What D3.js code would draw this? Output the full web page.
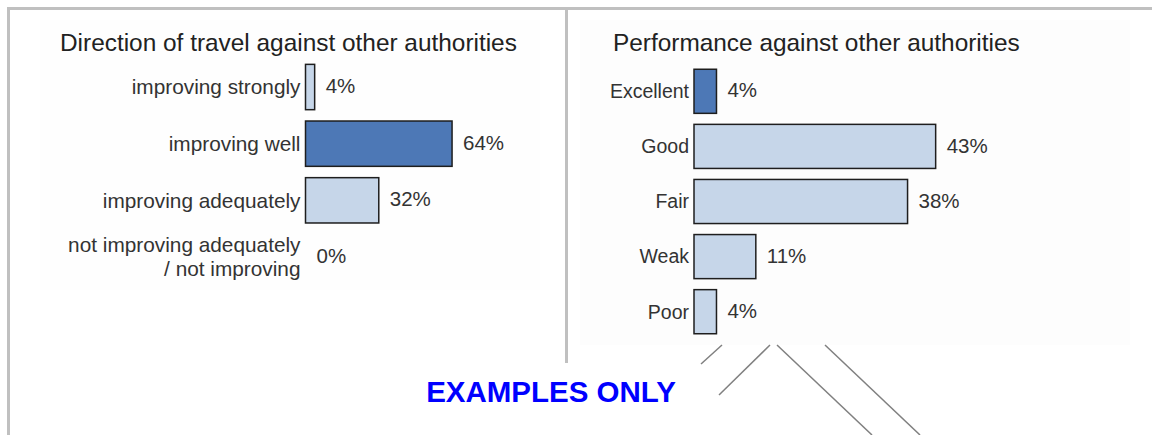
<!DOCTYPE html>
<head>
  <meta charset="utf-8">
  <script src="https://d3js.org/d3.v7.min.js"></script>
  <style>
    body { margin:0; background:#fff; }
    text { font-family: "Liberation Sans", Arial, sans-serif; }
  </style>
</head>
<body>
<script>
  // left chart: direction of travel
  var dirCategories = ["improving strongly", "improving well", "improving adequately", "not improving adequately / not improving"];
  var dirValues = [4, 64, 32, 0];
  var dirHighlight = "improving well";

  // right chart: performance
  var perfCategories = ["Excellent", "Good", "Fair", "Weak", "Poor"];
  var perfValues = [4, 43, 38, 11, 4];
  var perfHighlight = "Excellent";

  var width = 1152, height = 435;

  var svg = d3.select("body").append("svg")
    .attr("width", width)
    .attr("height", height);

  // very faint backgrounds behind the two charts
  svg.append("rect").attr("x", 40).attr("y", 20).attr("width", 500).attr("height", 270).attr("fill", "#fefefe");
  svg.append("rect").attr("x", 580).attr("y", 20).attr("width", 550).attr("height", 325).attr("fill", "#fdfdfd");

  // frame
  svg.append("line").attr("x1", 7).attr("x2", width).attr("y1", 8.5).attr("y2", 8.5)
    .attr("stroke", "#c0c0c0").attr("stroke-width", 3);
  svg.append("line").attr("x1", 8.5).attr("x2", 8.5).attr("y1", 7).attr("y2", height)
    .attr("stroke", "#c0c0c0").attr("stroke-width", 3);
  svg.append("line").attr("x1", 566.5).attr("x2", 566.5).attr("y1", 7).attr("y2", 363)
    .attr("stroke", "#c0c0c0").attr("stroke-width", 3);

  // decorative diagonal lines under the right chart
  var diag = [[722, 345, 701, 364], [770, 345, 719, 395], [777, 345, 872, 435], [825, 345, 920, 435]];
  svg.selectAll(".diag").data(diag).enter().append("line")
    .attr("class", "diag")
    .attr("x1", function(d) { return d[0]; }).attr("y1", function(d) { return d[1]; })
    .attr("x2", function(d) { return d[2]; }).attr("y2", function(d) { return d[3]; })
    .attr("stroke", "#808080").attr("stroke-width", 1.5);

  function drawChart(opt) {
    var g = svg.append("g");

    g.append("text")
      .attr("x", opt.titleX).attr("y", 51)
      .attr("font-size", 24.4)
      .attr("fill", "#222")
      .text(opt.title);

    var x = d3.scaleLinear().domain([0, 100]).range([opt.x0, opt.x0 + opt.pxPer100]);
    var y = d3.scaleBand().domain(opt.categories).range(opt.yRange)
      .paddingInner(0.2).paddingOuter(0.1);

    var data = opt.categories.map(function(c, i) { return {cat: c, val: opt.values[i]}; });

    g.selectAll(".bar").data(data.filter(function(d) { return d.val > 0; }))
      .enter().append("rect")
      .attr("class", "bar")
      .attr("x", x(0))
      .attr("y", function(d) { return y(d.cat); })
      .attr("width", function(d) { return x(d.val) - x(0); })
      .attr("height", y.bandwidth())
      .attr("fill", function(d) { return d.cat === opt.highlight ? "#4d78b6" : "#c6d6e9"; })
      .attr("stroke", "#1e1e1e")
      .attr("stroke-width", 1.5);

    // category labels
    var labels = g.selectAll(".lab").data(data).enter().append("text")
      .attr("class", "lab")
      .attr("text-anchor", "end")
      .attr("font-size", opt.labelSize)
      .attr("fill", "#333")
      .attr("x", x(0) - 5)
      .attr("y", function(d) { return y(d.cat) + y.bandwidth() / 2; });

    labels.each(function(d) {
      var lines = d.cat.split(" / ");
      var t = d3.select(this);
      if (lines.length === 1) {
        t.attr("dy", "0.35em").text(d.cat);
      } else {
        t.append("tspan").attr("x", x(0) - 5).attr("dy", "-0.22em").text(lines[0]);
        t.append("tspan").attr("x", x(0) - 5).attr("dy", "1.12em").text("/ " + lines[1]);
      }
    });

    // value labels
    g.selectAll(".val").data(data).enter().append("text")
      .attr("class", "val")
      .attr("font-size", 20.5)
      .attr("fill", "#333")
      .attr("x", function(d) { return x(d.val) + 11; })
      .attr("y", function(d) { return y(d.cat) + y.bandwidth() / 2; })
      .attr("dy", "0.3em")
      .text(function(d) { return d.val + "%"; });
  }

  drawChart({
    title: "Direction of travel against other authorities",
    titleX: 60,
    categories: dirCategories,
    values: dirValues,
    highlight: dirHighlight,
    x0: 305.5,
    pxPer100: 229,
    yRange: [58.7, 285.3],
    labelSize: 20.8
  });

  drawChart({
    title: "Performance against other authorities",
    titleX: 613,
    categories: perfCategories,
    values: perfValues,
    highlight: perfHighlight,
    x0: 694,
    pxPer100: 562,
    yRange: [63.75, 339.25],
    labelSize: 19.5
  });

  // watermark
  svg.append("text")
    .attr("x", 551).attr("y", 402)
    .attr("text-anchor", "middle")
    .attr("font-size", 29.5)
    .attr("font-weight", "bold")
    .attr("fill", "#0000ff")
    .text("EXAMPLES ONLY");
</script>
</body>
